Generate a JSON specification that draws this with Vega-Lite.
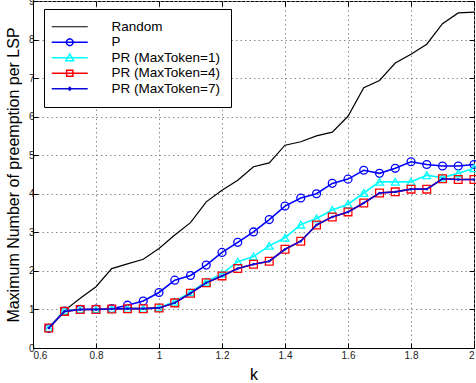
{
  "$schema": "https://vega.github.io/schema/vega-lite/v6.json",
  "width": 441,
  "height": 347,
  "autosize": "none",
  "padding": {"left": 33, "top": 1, "right": 2, "bottom": 35},
  "config": {
    "font": "Liberation Sans",
    "view": {"stroke": "black", "strokeWidth": 1},
    "axis": {
      "domainColor": "black",
      "tickColor": "black",
      "tickSize": -5,
      "labelFontSize": 10,
      "labelColor": "#222222",
      "labelFont": "Liberation Sans",
      "titleFont": "Liberation Sans",
      "titleFontSize": 16,
      "titleFontWeight": "normal",
      "titleColor": "black",
      "gridColor": "#8a8a8a",
      "gridDash": [1.5, 3],
      "gridOpacity": 1,
      "gridWidth": 1
    }
  },
  "data": {
    "values": [
      {"k": 0.65, "Random": 0.5, "P": 0.51, "PR1": 0.52, "PR4": 0.52, "PR7": 0.52},
      {"k": 0.7, "Random": 0.97, "P": 0.96, "PR1": 0.97, "PR4": 0.95, "PR7": 0.95},
      {"k": 0.75, "Random": 1.29, "P": 1.0, "PR1": 1.0, "PR4": 1.0, "PR7": 1.0},
      {"k": 0.8, "Random": 1.59, "P": 1.01, "PR1": 1.0, "PR4": 1.0, "PR7": 1.0},
      {"k": 0.85, "Random": 2.06, "P": 1.02, "PR1": 1.01, "PR4": 1.01, "PR7": 1.01},
      {"k": 0.9, "Random": 2.18, "P": 1.11, "PR1": 1.02, "PR4": 1.02, "PR7": 1.02},
      {"k": 0.95, "Random": 2.3, "P": 1.22, "PR1": 1.02, "PR4": 1.02, "PR7": 1.02},
      {"k": 1.0, "Random": 2.58, "P": 1.44, "PR1": 1.05, "PR4": 1.04, "PR7": 1.04},
      {"k": 1.05, "Random": 2.93, "P": 1.76, "PR1": 1.2, "PR4": 1.17, "PR7": 1.17},
      {"k": 1.1, "Random": 3.25, "P": 1.88, "PR1": 1.45, "PR4": 1.42, "PR7": 1.42},
      {"k": 1.15, "Random": 3.79, "P": 2.15, "PR1": 1.72, "PR4": 1.69, "PR7": 1.69},
      {"k": 1.2, "Random": 4.09, "P": 2.48, "PR1": 1.93, "PR4": 1.87, "PR7": 1.87},
      {"k": 1.25, "Random": 4.35, "P": 2.74, "PR1": 2.24, "PR4": 2.06, "PR7": 2.06},
      {"k": 1.3, "Random": 4.7, "P": 3.01, "PR1": 2.37, "PR4": 2.17, "PR7": 2.17},
      {"k": 1.35, "Random": 4.8, "P": 3.33, "PR1": 2.65, "PR4": 2.25, "PR7": 2.25},
      {"k": 1.4, "Random": 5.26, "P": 3.68, "PR1": 2.86, "PR4": 2.56, "PR7": 2.56},
      {"k": 1.45, "Random": 5.35, "P": 3.89, "PR1": 3.2, "PR4": 2.77, "PR7": 2.77},
      {"k": 1.5, "Random": 5.5, "P": 4.0, "PR1": 3.36, "PR4": 3.19, "PR7": 3.19},
      {"k": 1.55, "Random": 5.6, "P": 4.27, "PR1": 3.58, "PR4": 3.4, "PR7": 3.4},
      {"k": 1.6, "Random": 6.01, "P": 4.38, "PR1": 3.73, "PR4": 3.53, "PR7": 3.53},
      {"k": 1.65, "Random": 6.75, "P": 4.61, "PR1": 4.02, "PR4": 3.76, "PR7": 3.76},
      {"k": 1.7, "Random": 6.94, "P": 4.53, "PR1": 4.31, "PR4": 4.02, "PR7": 4.02},
      {"k": 1.75, "Random": 7.39, "P": 4.66, "PR1": 4.31, "PR4": 4.05, "PR7": 4.05},
      {"k": 1.8, "Random": 7.62, "P": 4.83, "PR1": 4.31, "PR4": 4.12, "PR7": 4.12},
      {"k": 1.85, "Random": 7.88, "P": 4.76, "PR1": 4.48, "PR4": 4.12, "PR7": 4.12},
      {"k": 1.9, "Random": 8.41, "P": 4.72, "PR1": 4.42, "PR4": 4.39, "PR7": 4.39},
      {"k": 1.95, "Random": 8.69, "P": 4.72, "PR1": 4.53, "PR4": 4.37, "PR7": 4.37},
      {"k": 2.0, "Random": 8.71, "P": 4.76, "PR1": 4.66, "PR4": 4.37, "PR7": 4.37}
    ]
  },
  "transform": [{"fold": ["Random", "P", "PR1", "PR4", "PR7"], "as": ["s", "v"]}],
  "encoding": {
    "x": {"field": "k", "type": "quantitative", "scale": {"domain": [0.6, 2], "nice": false, "zero": false}, "axis": null},
    "y": {"field": "v", "type": "quantitative", "scale": {"domain": [0, 9], "nice": false}, "axis": null}
  },
  "resolve": {"axis": {"x": "independent", "y": "independent"}},
  "layer": [
    {
      "transform": [{"filter": "datum.s == 'Random'"}],
      "mark": {"type": "line", "strokeWidth": 1.2},
      "encoding": {
        "x": {"field": "k", "type": "quantitative", "scale": {"domain": [0.6, 2], "nice": false, "zero": false},
          "axis": {"orient": "bottom", "values": [0.6, 0.8, 1, 1.2, 1.4, 1.6, 1.8, 2], "format": "~g", "title": "k", "grid": true, "labelPadding": 7, "titlePadding": 6}},
        "y": {"field": "v", "type": "quantitative", "scale": {"domain": [0, 9], "nice": false},
          "axis": {"orient": "left", "values": [0, 1, 2, 3, 4, 5, 6, 7, 8, 9], "title": "Maximum Number of preemption per LSP", "grid": true, "labelPadding": 4, "titlePadding": 7}},
        "color": {
          "field": "s", "type": "nominal",
          "scale": {"domain": ["Random", "P", "PR1", "PR4", "PR7"], "range": ["#000000", "#0000ff", "#00ffff", "#ff0000", "#0a0ad8"]},
          "legend": {
            "title": null,
            "orient": "none",
            "legendX": 11,
            "legendY": 8,
            "strokeColor": "black",
            "fillColor": "white",
            "padding": 11,
            "labelFont": "Liberation Sans",
            "labelFontSize": 13.5,
            "labelColor": "black",
            "symbolSize": 256,
            "symbolOffset": 8,
            "symbolFillColor": "transparent",
            "labelOffset": 35,
            "rowPadding": 0.5,
            "labelExpr": "datum.label == 'PR1' ? 'PR (MaxToken=1)' : datum.label == 'PR4' ? 'PR (MaxToken=4)' : datum.label == 'PR7' ? 'PR (MaxToken=7)' : datum.label",
            "encode": {
              "symbols": {
                "update": {
                  "shape": {"signal": "datum.value == 'Random' ? 'M-2.25,0L2.25,0' : datum.value == 'P' ? 'M-2.25,0L2.25,0M0.42,0L0.364,0.21L0.21,0.364L0,0.42L-0.21,0.364L-0.364,0.21L-0.42,0L-0.364,-0.21L-0.21,-0.364L0,-0.42L0.21,-0.364L0.364,-0.21Z' : datum.value == 'PR1' ? 'M-2.25,0L2.25,0M0,-0.48L0.5,0.37L-0.5,0.37Z' : datum.value == 'PR4' ? 'M-2.25,0L2.25,0M-0.39,-0.39L0.39,-0.39L0.39,0.39L-0.39,0.39Z' : 'M-2.25,0L2.25,0M0.17,0L0,0.17L-0.17,0L0,-0.17Z'"},
                  "strokeWidth": {"signal": "datum.value == 'Random' ? 1.2 : 1.5"},
                  "fill": {"value": "transparent"},
                  "fillOpacity": {"value": 0}
                }
              }
            }
          }
        }
      }
    },
    {
      "transform": [{"filter": "datum.s == 'P' || datum.s == 'PR1' || datum.s == 'PR4'"}],
      "mark": {"type": "line", "strokeWidth": 1.6},
      "encoding": {"color": {"field": "s", "type": "nominal"}}
    },
    {
      "transform": [{"filter": "datum.s == 'P' || datum.s == 'PR1' || datum.s == 'PR4'"}],
      "mark": {"type": "point", "filled": false, "strokeWidth": 1.3, "opacity": 1},
      "encoding": {
        "color": {"field": "s", "type": "nominal"},
        "shape": {"field": "s", "type": "nominal", "scale": {"domain": ["P", "PR1", "PR4"], "range": ["circle", "triangle-up", "square"]}, "legend": null},
        "size": {"field": "s", "type": "nominal", "scale": {"domain": ["P", "PR1", "PR4"], "range": [62, 60, 45]}, "legend": null}
      }
    },
    {
      "transform": [{"filter": "datum.s == 'PR7'"}],
      "mark": {"type": "line", "strokeWidth": 1.6},
      "encoding": {"color": {"field": "s", "type": "nominal"}}
    },
    {
      "transform": [{"filter": "datum.s == 'PR7'"}],
      "mark": {"type": "point", "filled": true, "shape": "circle", "size": 6, "opacity": 1},
      "encoding": {
        "color": {"field": "s", "type": "nominal"},
        "x": {"field": "k", "type": "quantitative", "scale": {"domain": [0.6, 2], "nice": false, "zero": false},
          "axis": {"orient": "top", "values": [0.6, 0.8, 1, 1.2, 1.4, 1.6, 1.8, 2], "labels": false, "title": null, "grid": false, "domain": false}},
        "y": {"field": "v", "type": "quantitative", "scale": {"domain": [0, 9], "nice": false},
          "axis": {"orient": "right", "values": [0, 1, 2, 3, 4, 5, 6, 7, 8, 9], "labels": false, "title": null, "grid": false, "domain": false}}
      }
    }
  ]
}
